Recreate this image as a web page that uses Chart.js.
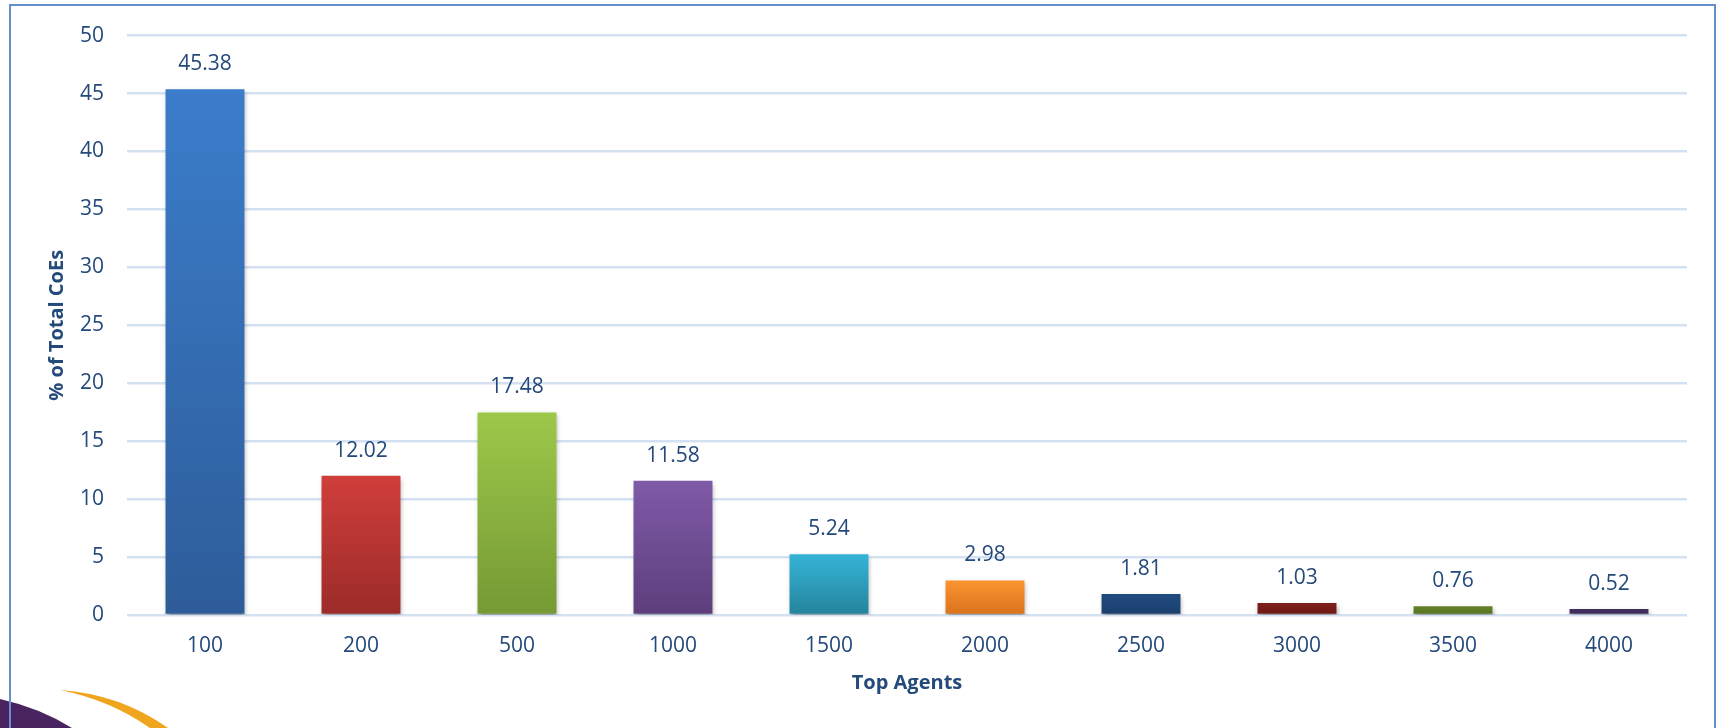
<!DOCTYPE html>
<html>
<head>
<meta charset="utf-8">
<script src="https://cdn.jsdelivr.net/npm/chart.js@4.4.1/dist/chart.umd.min.js"></script>
<style>
  html, body { margin: 0; padding: 0; background: #ffffff; }
  #wrap { width: 1723px; height: 728px; position: relative; }
</style>
</head>
<body>
<div id="wrap"><canvas id="c" width="1723" height="728"></canvas></div>
<script>
// ---- data ----
const categories = ['100', '200', '500', '1000', '1500', '2000', '2500', '3000', '3500', '4000'];
const shareOfCoEs = [45.38, 12.02, 17.48, 11.58, 5.24, 2.98, 1.81, 1.03, 0.76, 0.52];
const yTicks = [0, 5, 10, 15, 20, 25, 30, 35, 40, 45, 50];
const barTopColors = ['#3b7dcb', '#d03e3b', '#9dc84a', '#7f5aa8', '#35b4d7', '#fb9530', '#1f4b7f', '#801f1d', '#64822a', '#43305f'];
const barBottomColors = ['#2e5c99', '#9b2b29', '#759934', '#5d3e7b', '#25839c', '#d9711e', '#1b3f6d', '#6c1816', '#56721f', '#3a2957'];

const textColor = '#24497b';
const fontFamily = '"Open Sans", "Noto Sans", sans-serif';

function barFill(ctx) {
  const chart = ctx.chart;
  const i = ctx.dataIndex;
  if (!chart.chartArea || i === undefined) return barTopColors[i] || barTopColors[0];
  const yScale = chart.scales.y;
  const top = yScale.getPixelForValue(shareOfCoEs[i]);
  const base = yScale.getPixelForValue(0);
  const g = chart.ctx.createLinearGradient(0, top, 0, base);
  g.addColorStop(0, barTopColors[i]);
  g.addColorStop(1, barBottomColors[i]);
  return g;
}

const framePlugin = {
  id: 'frame',
  beforeDraw(chart) {
    const c = chart.ctx;
    c.save();
    c.fillStyle = '#ffffff';
    c.fillRect(0, 0, chart.width, chart.height);
    // decorative swooshes bottom-left
    c.fillStyle = '#4a2461';
    c.beginPath();
    c.moveTo(0, 699);
    c.quadraticCurveTo(40, 708, 72, 728);
    c.lineTo(0, 728);
    c.closePath();
    c.fill();
    c.fillStyle = '#f0a51e';
    c.beginPath();
    c.moveTo(60, 690);
    c.quadraticCurveTo(120, 694, 168, 728);
    c.lineTo(150, 728);
    c.quadraticCurveTo(110, 700, 60, 690);
    c.closePath();
    c.fill();
    // frame
    c.strokeStyle = '#6690cc';
    c.lineWidth = 2;
    c.beginPath();
    c.moveTo(10, 760);
    c.lineTo(10, 5);
    c.lineTo(1715, 5);
    c.lineTo(1715, 760);
    c.stroke();
    c.restore();
  }
};

const shadowPlugin = {
  id: 'barShadow',
  beforeDatasetsDraw(chart) {
    const c = chart.ctx;
    c.save();
    c.shadowColor = 'rgba(0,0,0,0.35)';
    c.shadowBlur = 5;
    c.shadowOffsetX = 1;
    c.shadowOffsetY = 3;
  },
  afterDatasetsDraw(chart) {
    chart.ctx.restore();
    const c = chart.ctx;
    c.save();
    c.fillStyle = textColor;
    c.font = '21px ' + fontFamily;
    c.textAlign = 'center';
    c.textBaseline = 'middle';
    const meta = chart.getDatasetMeta(0);
    meta.data.forEach((bar, i) => {
      c.fillText(shareOfCoEs[i].toFixed(2), bar.x, bar.y - 25);
    });
    c.restore();
  }
};

new Chart(document.getElementById('c'), {
  type: 'bar',
  data: {
    labels: categories,
    datasets: [{
      data: shareOfCoEs,
      backgroundColor: barFill,
      borderWidth: 0,
      barPercentage: 0.506,
      categoryPercentage: 1.0
    }]
  },
  options: {
    responsive: false,
    animation: false,
    devicePixelRatio: 1,
    layout: { padding: { left: 0, right: 36, top: 33, bottom: 0 } },
    plugins: {
      legend: { display: false },
      tooltip: { enabled: false },
      title: { display: false }
    },
    scales: {
      x: {
        grid: { display: false, drawTicks: false },
        border: { display: false },
        ticks: { color: textColor, font: { family: fontFamily, size: 21 }, padding: 18, maxRotation: 0 },
        title: { display: true, text: 'Top Agents', color: textColor, font: { family: fontFamily, size: 20, weight: 'bold' }, padding: { top: 0, bottom: 33 } },
        afterFit(scale) { scale.height = 113; }
      },
      y: {
        min: 0,
        max: 50,
        afterBuildTicks(scale) { scale.ticks = yTicks.map(v => ({ value: v })); },
        grid: { color: '#d3e1f2', lineWidth: 2.5, drawTicks: false },
        border: { display: false },
        ticks: { color: textColor, font: { family: fontFamily, size: 21 }, padding: 23 },
        title: { display: true, text: '% of Total CoEs', color: textColor, font: { family: fontFamily, size: 20, weight: 'bold' }, padding: { top: 45, bottom: 0 } },
        afterFit(scale) { scale.width = 127; }
      }
    }
  },
  plugins: [framePlugin, shadowPlugin]
});
</script>
</body>
</html>
